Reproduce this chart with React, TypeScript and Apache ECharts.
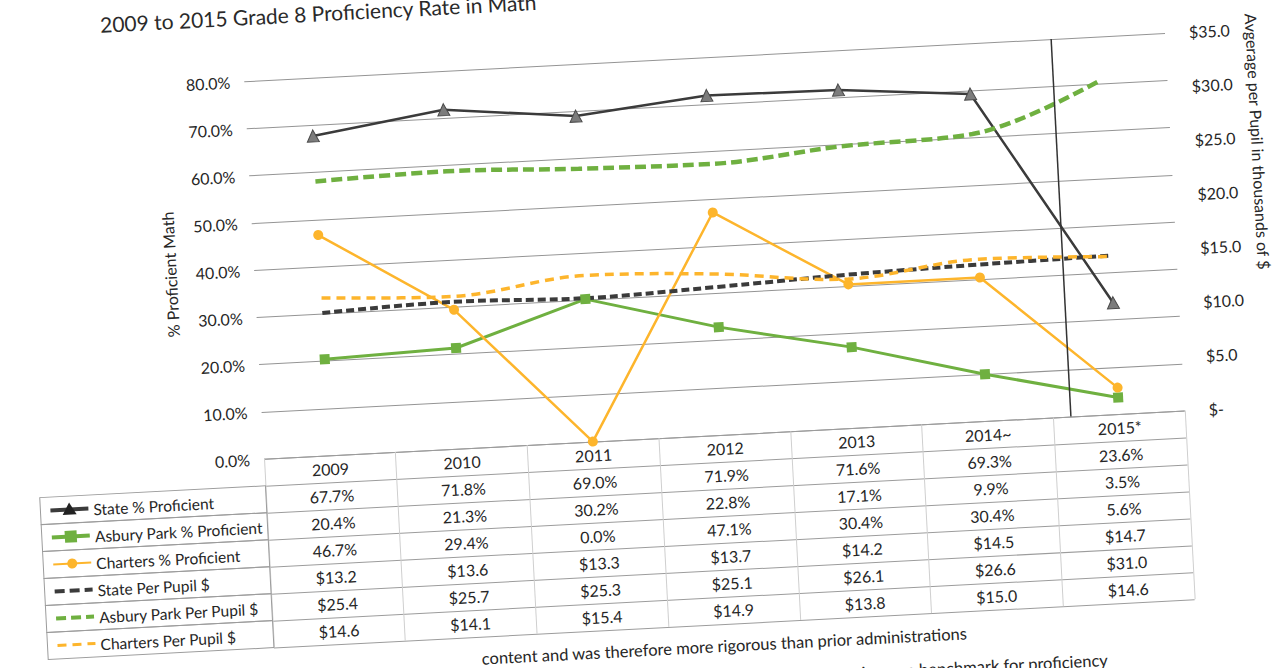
import React, { useEffect, useRef } from 'react';
import * as echarts from 'echarts';

const years = ['2009', '2010', '2011', '2012', '2013', '2014~', '2015*'];
const rowNames = [
  'State % Proficient',
  'Asbury Park % Proficient',
  'Charters % Proficient',
  'State Per Pupil $',
  'Asbury Park Per Pupil $',
  'Charters Per Pupil $',
];
const stateProf = [67.7, 71.8, 69.0, 71.9, 71.6, 69.3, 23.6];
const asburyProf = [20.4, 21.3, 30.2, 22.8, 17.1, 9.9, 3.5];
const chartersProf = [46.7, 29.4, 0.0, 47.1, 30.4, 30.4, 5.6];
const statePP = [13.2, 13.6, 13.3, 13.7, 14.2, 14.5, 14.7];
const asburyPP = [25.4, 25.7, 25.3, 25.1, 26.1, 26.6, 31.0];
const chartersPP = [14.6, 14.1, 15.4, 14.9, 13.8, 15.0, 14.6];
const testChangeMarker = 5.63; // between 2014~ and 2015*
const leftTicks = { min: 0, max: 80, interval: 10 };
const rightTicks = { min: 0, max: 35, interval: 5 };
const titleText = '2009 to 2015 Grade 8 Proficiency Rate in Math';
const leftAxisTitle = '% Proficient Math';
const rightAxisTitle = 'Avgerage per Pupil in thousands of $';
const footnote1 = 'content and was therefore more rigorous than prior administrations';
const footnote2 = 'rigorous benchmark for proficiency';

const DARK = '#3b3b3b';
const GREEN = '#6fb040';
const ORANGE = '#fdb52c';
const FONT = 'Lato';
const TXT = '#262626';

const pct = (v: number) => v.toFixed(1) + '%';
const usd = (v: number) => '$' + v.toFixed(1);

const rowsData = [
  stateProf.map(pct),
  asburyProf.map(pct),
  chartersProf.map(pct),
  statePP.map(usd),
  asburyPP.map(usd),
  chartersPP.map(usd),
];

type Cell = { col: number; row: number; text: string };
const cells: Cell[] = [];
years.forEach((y, c) => cells.push({ col: c, row: 0, text: y }));
rowsData.forEach((r, ri) => r.forEach((t, c) => cells.push({ col: c, row: ri + 1, text: t })));

const keyStyles = [
  { color: DARK, width: 4, dash: null as any, marker: 'triangle', mColor: '#222' },
  { color: GREEN, width: 4, dash: null as any, marker: 'rect', mColor: GREEN },
  { color: ORANGE, width: 2, dash: null as any, marker: 'circle', mColor: ORANGE },
  { color: DARK, width: 4, dash: [10, 5], marker: 'none', mColor: DARK },
  { color: GREEN, width: 4, dash: [10, 5], marker: 'none', mColor: GREEN },
  { color: ORANGE, width: 3, dash: [9, 6], marker: 'none', mColor: ORANGE },
];

export default function App() {
  const ref = useRef<HTMLDivElement>(null);
  useEffect(() => {
    const chart = echarts.init(ref.current!, null, { renderer: 'svg' });
    const LABEL_COL_W = 226;

    const option: any = {
      animation: false,
      backgroundColor: '#ffffff',
      textStyle: { fontFamily: FONT, color: TXT },
      title: {
        text: titleText,
        left: 172,
        top: 47,
        textStyle: { fontFamily: FONT, fontSize: 21, fontWeight: 'normal', color: '#2a2a2a' },
      },
      grid: [
        { left: 318, top: 127, width: 922, height: 378 },
        { left: 318, top: 505, width: 922, height: 189 },
      ],
      xAxis: [
        {
          type: 'category', gridIndex: 0, data: years, boundaryGap: true,
          axisLine: { show: false }, axisTick: { show: false }, axisLabel: { show: false }, splitLine: { show: false },
        },
        { type: 'value', gridIndex: 0, min: -0.5, max: 6.5, show: false },
        {
          type: 'category', gridIndex: 1, data: years, boundaryGap: true,
          axisLine: { show: false }, axisTick: { show: false }, axisLabel: { show: false },
          splitLine: { show: true, interval: 0, lineStyle: { color: '#cfcfcf', width: 1 } },
        },
      ],
      yAxis: [
        {
          type: 'value', gridIndex: 0, position: 'left', ...leftTicks,
          name: leftAxisTitle, nameLocation: 'middle', nameGap: 76,
          nameTextStyle: { fontFamily: FONT, fontSize: 16, color: TXT },
          axisLine: { show: false }, axisTick: { show: false },
          axisLabel: { formatter: (v: number) => pct(v), fontSize: 16, color: TXT, margin: 14, fontFamily: FONT },
          splitLine: { show: true, lineStyle: { color: '#949494', width: 1 } },
        },
        {
          type: 'value', gridIndex: 0, position: 'right', ...rightTicks,
          axisLine: { show: false }, axisTick: { show: false },
          axisLabel: {
            formatter: (v: number) => (v === 0 ? '$-' : usd(v)),
            fontSize: 16, color: TXT, margin: 24, fontFamily: FONT,
          },
          splitLine: { show: false },
        },
        {
          type: 'category', gridIndex: 1, data: ['', ...rowNames], inverse: true, boundaryGap: true,
          axisLine: { show: false }, axisTick: { show: false }, axisLabel: { show: false },
          splitLine: { show: true, interval: 0, lineStyle: { color: '#9c9c9c', width: 1 } },
        },
      ],
      series: [
        {
          name: rowNames[0], type: 'line', xAxisIndex: 0, yAxisIndex: 0, data: stateProf,
          symbol: 'triangle', symbolSize: 12,
          lineStyle: { color: DARK, width: 2.5 },
          itemStyle: { color: '#7c7c7c', borderColor: '#4a4a4a', borderWidth: 1 },
        },
        {
          name: rowNames[1], type: 'line', xAxisIndex: 0, yAxisIndex: 0, data: asburyProf,
          symbol: 'rect', symbolSize: 10,
          lineStyle: { color: GREEN, width: 3 },
          itemStyle: { color: GREEN },
        },
        {
          name: rowNames[2], type: 'line', xAxisIndex: 0, yAxisIndex: 0, data: chartersProf,
          symbol: 'circle', symbolSize: 10,
          lineStyle: { color: ORANGE, width: 2.5 },
          itemStyle: { color: ORANGE },
        },
        {
          name: rowNames[3], type: 'line', xAxisIndex: 0, yAxisIndex: 1, data: statePP,
          smooth: 0.35, symbol: 'none',
          lineStyle: { color: DARK, width: 4, type: [8, 4] },
        },
        {
          name: rowNames[4], type: 'line', xAxisIndex: 0, yAxisIndex: 1, data: asburyPP,
          smooth: 0.35, symbol: 'none',
          lineStyle: { color: GREEN, width: 4.5, type: [11, 5] },
        },
        {
          name: rowNames[5], type: 'line', xAxisIndex: 0, yAxisIndex: 1, data: chartersPP,
          smooth: 0.35, symbol: 'none',
          lineStyle: { color: ORANGE, width: 3.5, type: [9, 6] },
        },
        {
          type: 'line', xAxisIndex: 1, yAxisIndex: 0,
          data: [[testChangeMarker, 40]], showSymbol: false, symbol: 'none',
          lineStyle: { opacity: 0 }, silent: true,
          markLine: {
            silent: true, symbol: ['none', 'none'], label: { show: false },
            lineStyle: { color: '#333333', width: 1.5, type: 'solid' },
            data: [{ xAxis: testChangeMarker }],
          },
        },
        {
          type: 'custom', xAxisIndex: 2, yAxisIndex: 2, coordinateSystem: 'cartesian2d', clip: false,
          data: cells.map((c) => [c.col, c.row]),
          renderItem: (params: any, api: any) => {
            const p = api.coord([api.value(0), api.value(1)]);
            return {
              type: 'text', x: p[0], y: p[1],
              style: {
                text: cells[params.dataIndex].text, fill: TXT, fontSize: 16, fontFamily: FONT,
                align: 'center', verticalAlign: 'middle',
              },
            };
          },
        },
        {
          type: 'custom', xAxisIndex: 2, yAxisIndex: 2, coordinateSystem: 'cartesian2d', clip: false,
          data: rowNames.map((_, i) => [0, i + 1]),
          renderItem: (params: any, api: any) => {
            const i = params.dataIndex;
            const p = api.coord([0, api.value(1)]);
            const cw = api.size([1, 0])[0];
            const rh = api.size([0, 1])[1];
            const left = p[0] - cw / 2 - LABEL_COL_W;
            const cy = p[1];
            const ks = keyStyles[i];
            const children: any[] = [
              {
                type: 'rect',
                shape: { x: left, y: cy - rh / 2, width: LABEL_COL_W, height: rh },
                style: { fill: 'none', stroke: '#9c9c9c', lineWidth: 1 },
              },
              {
                type: 'line',
                shape: { x1: left + 10, y1: cy, x2: left + 48, y2: cy },
                style: { stroke: ks.color, lineWidth: ks.width, lineDash: ks.dash || undefined },
              },
            ];
            const mx = left + 29;
            if (ks.marker === 'triangle') {
              children.push({
                type: 'polygon',
                shape: { points: [[mx, cy - 7], [mx - 7, cy + 5], [mx + 7, cy + 5]] },
                style: { fill: ks.mColor },
              });
            } else if (ks.marker === 'rect') {
              children.push({ type: 'rect', shape: { x: mx - 6, y: cy - 6, width: 12, height: 12 }, style: { fill: ks.mColor } });
            } else if (ks.marker === 'circle') {
              children.push({ type: 'circle', shape: { cx: mx, cy, r: 5 }, style: { fill: ks.mColor } });
            }
            children.push({
              type: 'text', x: left + 53, y: cy + 1,
              style: {
                text: rowNames[i], fill: TXT, fontSize: 15.5, fontFamily: FONT,
                align: 'left', verticalAlign: 'middle',
              },
            });
            return { type: 'group', children };
          },
        },
      ],
      graphic: [
        {
          type: 'text', x: 1327, y: 240, rotation: -Math.PI / 2,
          style: { text: rightAxisTitle, fill: TXT, fontSize: 16, fontFamily: FONT, align: 'center', verticalAlign: 'middle' },
        },
        {
          type: 'text', x: 525, y: 716,
          style: { text: footnote1, fill: TXT, fontSize: 16.5, fontFamily: FONT, align: 'left', verticalAlign: 'middle' },
        },
        {
          type: 'text', x: 1150, y: 750,
          style: { text: footnote2, fill: TXT, fontSize: 16.5, fontFamily: FONT, align: 'right', verticalAlign: 'middle' },
        },
      ],
    };
    chart.setOption(option);
    return () => chart.dispose();
  }, []);

  return (
    <div style={{ position: 'fixed', left: 0, top: 0, width: 1280, height: 668, overflow: 'hidden', background: '#ffffff' }}>
      <div
        ref={ref}
        style={{
          position: 'absolute', left: -60, top: -66, width: 1400, height: 800,
          transform: 'rotate(-3deg)', transformOrigin: '700px 400px',
        }}
      />
    </div>
  );
}
